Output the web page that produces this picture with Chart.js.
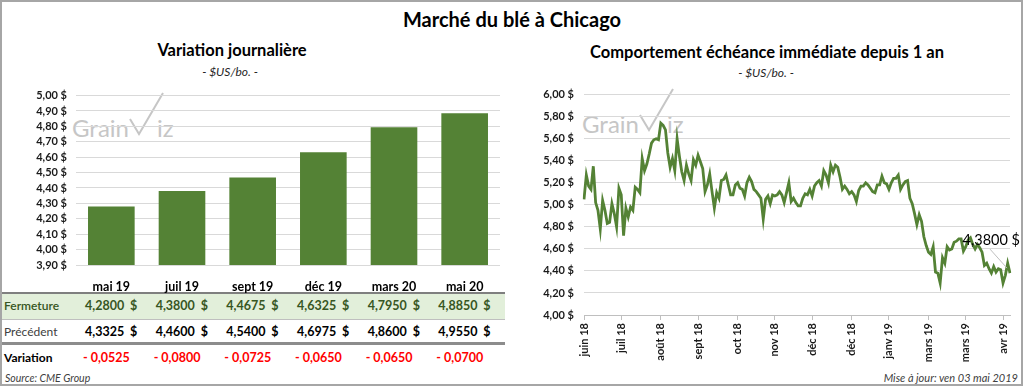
<!DOCTYPE html>
<html lang="fr">
<head>
<meta charset="utf-8">
<title>Marché du blé à Chicago</title>
<script src="https://cdn.jsdelivr.net/npm/chart.js@4.4.1/dist/chart.umd.min.js"></script>
<style>
  body { margin: 0; background: #fff; font-family: Lato, 'Open Sans', sans-serif; color: #000; }
  #page { position: relative; width: 1024px; height: 387px; overflow: hidden; }
  #border { position: absolute; left: 0; top: 0; width: 1023px; height: 386px; box-sizing: border-box; border: 2px solid #a6a6a6; z-index: 5; pointer-events: none; }
  .abs { position: absolute; white-space: nowrap; }
  .title { font-weight: 700; text-align: center; }
  .unit { font-style: italic; font-size: 12px; text-align: center; color: #262626; }
  .wm { position: absolute; color: #c6c6c6; font-size: 24px; font-weight: 400; line-height: 1; z-index: 0; }
  canvas { position: absolute; z-index: 1; }
  .row-label { font-size: 12px; }
  .num { font-size: 12.5px; font-weight: 700; }
  .foot { font-style: italic; font-size: 10.5px; color: #404040; }
</style>
</head>
<body>
<div id="page">
  <div id="border"></div>

  <div class="abs title" style="left:0; width:1024px; top:7px; font-size:20px;">Marché du blé à Chicago</div>

  <div class="abs title" style="left:132px; width:200px; top:40px; font-size:16.5px;">Variation journalière</div>
  <div class="abs unit" style="left:130px; width:200px; top:64px;">- $US/bo. -</div>

  <div class="abs title" style="left:517px; width:500px; top:42px; font-size:16.5px;">Comportement échéance immédiate depuis 1 an</div>
  <div class="abs unit" style="left:666px; width:200px; top:65px;">- $US/bo. -</div>

  <div id="table"></div>

  <canvas id="barChart" style="left:0; top:80px;" width="510" height="220"></canvas>
  <canvas id="lineChart" style="left:520px; top:78px;" width="500" height="287"></canvas>

  <div class="abs foot" style="left:5px; top:372px;">Source: CME Group</div>
  <div class="abs foot" style="right:6px; top:371px; font-size:11px;">Mise à jour: ven 03 mai 2019</div>
</div>

<script>
// Contrats et prix (gauche)
const contracts = ['mai 19', 'juil 19', 'sept 19', 'déc 19', 'mars 20', 'mai 20'];
const closeValues = [4.2800, 4.3800, 4.4675, 4.6325, 4.7950, 4.8850];
const prevValues = [4.3325, 4.4600, 4.5400, 4.6975, 4.8600, 4.9550];
const changeValues = [-0.0525, -0.0800, -0.0725, -0.0650, -0.0650, -0.0700];
const barAxis = { min: 3.9, max: 5.0, step: 0.1 };

// Echéance immédiate, un an de fermetures (droite)
const nearbyCloses = [
  5.05, 5.27, 5.17, 5.14, 5.35, 5.02, 4.95, 4.78, 5.04, 4.95,
  4.83, 4.84, 5.01, 4.92, 4.80, 5.15, 5.09, 4.72, 4.97, 4.89,
  4.98, 4.95, 5.16, 5.14, 5.11, 5.42, 5.31, 5.37, 5.46, 5.56,
  5.59, 5.60, 5.59, 5.74, 5.72, 5.68, 5.47, 5.34, 5.42, 5.31,
  5.60, 5.44, 5.30, 5.22, 5.36, 5.28, 5.22, 5.41, 5.36, 5.45,
  5.39, 5.33, 5.12, 5.18, 5.28, 5.12, 4.97, 5.11, 5.06, 5.22,
  5.23, 5.27,
  5.18, 5.09, 5.09, 5.18, 5.20, 5.15, 5.14, 5.08, 5.20, 5.25,
  5.21, 5.14, 5.12, 5.09, 5.06, 4.87, 5.05, 5.08, 5.01, 5.09,
  5.08, 5.09, 5.12, 5.09, 5.02, 5.11, 5.20, 5.03, 5.06, 5.02,
  4.99, 4.99, 5.06, 5.10, 5.09, 5.14, 5.08, 5.17, 5.20, 5.22,
  5.17, 5.31, 5.27, 5.20, 5.36, 5.30, 5.36, 5.34, 5.25, 5.14,
  5.17, 5.14, 5.10, 5.12, 5.09, 5.03, 5.13, 5.17, 5.17, 5.20,
  5.18, 5.15, 5.12,
  5.11, 5.18, 5.18, 5.26, 5.20, 5.19, 5.14, 5.20, 5.24, 5.24,
  5.27, 5.14, 5.18, 5.21, 5.22, 5.06, 5.01, 4.92, 4.82, 4.91,
  4.85, 4.71, 4.63, 4.57, 4.55, 4.62, 4.39, 4.38, 4.29, 4.52,
  4.47, 4.62, 4.59, 4.60, 4.66, 4.67, 4.69, 4.69, 4.58, 4.62,
  4.68, 4.70, 4.64, 4.60, 4.64, 4.61, 4.57, 4.45, 4.47, 4.42,
  4.38, 4.44, 4.39, 4.42, 4.41, 4.29, 4.36, 4.47, 4.38
];
const monthTickLabels = ['juin 18', 'juil 18', 'août 18', 'sept 18', 'oct 18', 'nov 18',
  'déc 18', 'déc 18', 'janv 19', 'mars 19', 'mars 19', 'avr 19'];
const lineAxis = { min: 4.0, max: 6.0, step: 0.2 };
const TICK_EVERY = 16.4; // séances entre deux étiquettes

const GREEN = '#548235';
const GRID = '#d9d9d9';

const fmt = (v, d) => v.toFixed(d).replace('.', ',');
const money = v => fmt(v, 2) + ' $';

// Watermark "GrainViz" (logo gris, derrière les graphiques)
function watermark(x, base) {
  const page = document.getElementById('page');
  const g = document.createElement('div');
  g.className = 'wm';
  g.style.left = x + 'px';
  g.style.top = (base - 19) + 'px';
  g.textContent = 'Grain';
  page.appendChild(g);
  const iz = document.createElement('div');
  iz.className = 'wm';
  iz.style.left = (x + 85) + 'px';
  iz.style.top = (base - 19) + 'px';
  iz.textContent = 'iz';
  page.appendChild(iz);
  const svg = document.createElementNS('http://www.w3.org/2000/svg', 'svg');
  svg.setAttribute('width', '40');
  svg.setAttribute('height', '48');
  svg.style.position = 'absolute';
  svg.style.left = (x + 55) + 'px';
  svg.style.top = (base - 45) + 'px';
  svg.style.zIndex = 0;
  svg.innerHTML = '<polyline points="3,29 12,44 36,3" fill="none" stroke="#c6c6c6" stroke-width="2"/>';
  page.appendChild(svg);
}
watermark(72, 135);
watermark(582, 131);

// Tableau sous les barres
(function buildTable() {
  const t = document.getElementById('table');
  const colStart = 76, colW = 70.67;
  let html = '';
  html += '<div class="abs" style="left:0;top:294px;width:505px;height:25px;background:#e2efda;"></div>';
  html += '<div class="abs" style="left:0;top:292px;width:505px;height:2px;background:#7f7f7f;"></div>';
  html += '<div class="abs" style="left:0;top:319px;width:505px;height:1px;background:#bfbfbf;"></div>';
  html += '<div class="abs" style="left:0;top:342px;width:505px;height:3px;background:#8c8c8c;"></div>';
  html += '<div class="abs row-label" style="left:4px;top:298px;color:#375623;font-weight:600;">Fermeture</div>';
  html += '<div class="abs row-label" style="left:4px;top:324px;color:#404040;">Précédent</div>';
  html += '<div class="abs row-label" style="left:4px;top:350px;font-weight:700;">Variation</div>';
  contracts.forEach((c, i) => {
    const x = colStart + i * colW;
    html += `<div class="abs num" style="left:${x + 9}px;top:298px;color:#375623;">${fmt(closeValues[i], 4)}</div>`;
    html += `<div class="abs num" style="left:${x + 54}px;top:298px;color:#375623;">$</div>`;
    html += `<div class="abs num" style="left:${x + 9}px;top:324px;">${fmt(prevValues[i], 4)}</div>`;
    html += `<div class="abs num" style="left:${x + 54}px;top:324px;">$</div>`;
    const ch = changeValues[i];
    html += `<div class="abs num" style="left:${x + 7}px;top:350px;color:#ff0000;">${ch < 0 ? '- ' : ''}${fmt(Math.abs(ch), 4)}</div>`;
  });
  t.innerHTML = html;
})();

Chart.defaults.font.family = 'Lato, "Open Sans", sans-serif';
Chart.defaults.color = '#000';
Chart.defaults.animation = false;

new Chart(document.getElementById('barChart'), {
  type: 'bar',
  data: {
    labels: contracts,
    datasets: [{
      data: closeValues,
      backgroundColor: GREEN,
      borderWidth: 0,
      categoryPercentage: 1,
      barPercentage: 0.66
    }]
  },
  options: {
    responsive: false,
    layout: { padding: { top: 7, right: 10, left: 0, bottom: 0 } },
    plugins: { legend: { display: false }, tooltip: { enabled: false } },
    scales: {
      x: {
        grid: { display: false, drawTicks: false },
        border: { display: false },
        ticks: { padding: 14, font: { size: 12.5, weight: 'bold' }, color: '#000' },
        afterFit: s => { s.height = 35; }
      },
      y: {
        min: barAxis.min,
        max: barAxis.max,
        grid: { color: GRID, drawTicks: false },
        border: { display: false },
        ticks: {
          stepSize: barAxis.step,
          autoSkip: false,
          padding: 9,
          font: { size: 11, weight: 'bold' },
          color: '#1a1a1a',
          callback: v => money(v)
        },
        afterFit: s => { s.width = 76; }
      }
    }
  }
});

// Etiquette de la dernière valeur avec sa ligne de rappel
const lastValueLabel = {
  id: 'lastValueLabel',
  afterDatasetsDraw(chart) {
    const meta = chart.getDatasetMeta(0);
    const pt = meta.data[meta.data.length - 1];
    if (!pt) return;
    const ctx = chart.ctx;
    ctx.save();
    ctx.strokeStyle = '#bfbfbf';
    ctx.lineWidth = 1;
    ctx.beginPath();
    ctx.moveTo(pt.x - 20, pt.y - 24);
    ctx.lineTo(pt.x - 3, pt.y - 5);
    ctx.stroke();
    ctx.fillStyle = '#000';
    ctx.font = '14.5px Lato, "Open Sans", sans-serif';
    ctx.textAlign = 'right';
    ctx.textBaseline = 'middle';
    ctx.fillText(fmt(nearbyCloses[nearbyCloses.length - 1], 4) + ' $', pt.x + 10, pt.y - 33);
    ctx.restore();
  }
};

new Chart(document.getElementById('lineChart'), {
  type: 'line',
  data: {
    labels: nearbyCloses.map((_, i) => i),
    datasets: [{
      data: nearbyCloses,
      borderColor: GREEN,
      borderWidth: 2.8,
      pointRadius: 0,
      tension: 0,
      fill: false
    }]
  },
  options: {
    responsive: false,
    layout: { padding: { top: 9, right: 10, left: 0, bottom: 0 } },
    plugins: { legend: { display: false }, tooltip: { enabled: false } },
    scales: {
      x: {
        grid: { drawOnChartArea: false, drawTicks: true, tickLength: 5, color: '#bfbfbf' },
        border: { display: true, color: '#bfbfbf' },
        afterBuildTicks: s => {
          s.ticks = monthTickLabels.map((_, i) => ({ value: Math.round(i * TICK_EVERY) }));
        },
        ticks: {
          autoSkip: false,
          minRotation: 90,
          maxRotation: 90,
          padding: 3,
          font: { size: 11, weight: 'bold' },
          color: '#1a1a1a',
          callback: (v, i) => monthTickLabels[i]
        },
        afterFit: s => { s.height = 50; }
      },
      y: {
        min: lineAxis.min,
        max: lineAxis.max,
        grid: { color: GRID, drawTicks: false },
        border: { display: false },
        ticks: {
          stepSize: lineAxis.step,
          autoSkip: false,
          padding: 10,
          font: { size: 11, weight: 'bold' },
          color: '#1a1a1a',
          callback: v => money(v)
        },
        afterFit: s => { s.width = 64; }
      }
    }
  },
  plugins: [lastValueLabel]
});
</script>
</body>
</html>
